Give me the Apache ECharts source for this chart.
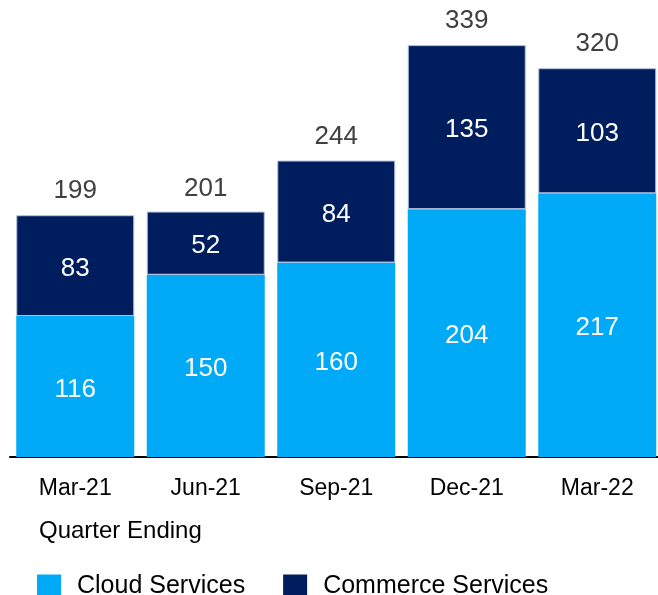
<!DOCTYPE html>
<html>
<head>
<meta charset="utf-8">
<style>
  html, body { margin: 0; padding: 0; background: #fff; }
  #chart { width: 658px; height: 595px; }
</style>
<script src="https://cdn.jsdelivr.net/npm/echarts@6/dist/echarts.min.js"></script>
</head>
<body>
<div id="chart"></div>
<script>
// quarters and values
var quarters = ["Mar-21", "Jun-21", "Sep-21", "Dec-21", "Mar-22"];
var cloud = [116, 150, 160, 204, 217];
var commerce = [83, 52, 84, 135, 103];
var totals = [199, 201, 244, 339, 320];

var font = "'Liberation Sans', Arial, sans-serif";

var chart = echarts.init(document.getElementById("chart"));

chart.setOption({
  animation: false,
  textStyle: { fontFamily: font },
  title: {
    text: "Quarter Ending",
    left: 34,
    top: 514,
    textStyle: { fontSize: 24, fontWeight: "normal", color: "#000", fontFamily: font }
  },
  legend: {
    left: 32,
    top: 569,
    itemWidth: 24,
    itemHeight: 24,
    itemGap: 38,
    icon: "rect",
    itemStyle: { borderWidth: 0 },
    data: ["Cloud Services", "Commerce Services"],
    textStyle: { fontSize: 25, color: "#000", padding: [0, 0, 0, 11], fontFamily: font }
  },
  grid: { left: 10, width: 652.5, top: 19.6, bottom: 138, outerBoundsMode: "none", containLabel: false },
  xAxis: {
    type: "category",
    data: quarters,
    axisLine: { lineStyle: { color: "#000", width: 2 } },
    axisTick: { show: false },
    axisLabel: { fontSize: 23, color: "#000", margin: 20, fontFamily: font }
  },
  yAxis: {
    type: "value",
    min: 0,
    max: 360,
    show: false,
    splitLine: { show: false }
  },
  series: [
    {
      name: "Cloud Services",
      type: "bar",
      stack: "rev",
      barWidth: 118,
      data: cloud,
      itemStyle: { color: "#00AAF7" },
      label: { show: true, position: "inside", offset: [0, 3], color: "#fff", fontSize: 26, fontFamily: font }
    },
    {
      name: "Commerce Services",
      type: "bar",
      stack: "rev",
      barWidth: 118,
      data: commerce,
      itemStyle: { color: "#001E5E", borderColor: "#b4c2dc", borderWidth: 1 },
      label: { show: true, position: "inside", offset: [0, 3], color: "#fff", fontSize: 26, fontFamily: font }
    },
    {
      name: "Total",
      type: "bar",
      barWidth: 118,
      barGap: "-100%",
      data: totals,
      silent: true,
      itemStyle: { color: "transparent" },
      label: { show: true, position: "top", distance: 11, color: "#404040", fontSize: 26, fontFamily: font }
    }
  ]
});
</script>
</body>
</html>
